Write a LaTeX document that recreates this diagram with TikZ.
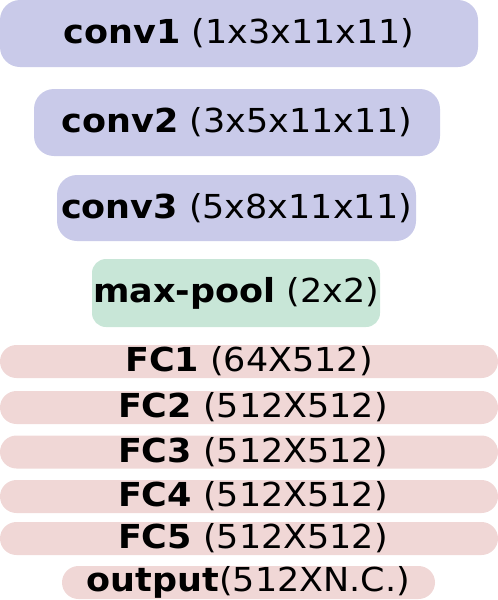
\documentclass[tikz,border=0pt]{standalone}
\usepackage{fontspec}
\setmainfont{DejaVu Sans}
\usepackage{graphicx}

\definecolor{convfill}{HTML}{C9CAE9}
\definecolor{poolfill}{HTML}{C8E6D7}
\definecolor{fcfill}{HTML}{F0D7D6}

% wide lettering, as in the figure
\newcommand{\widetext}[1]{\scalebox{1.06}[1]{#1}}

\begin{document}
\begin{tikzpicture}[x=1pt, y=-1pt,
    layer/.style={inner sep=0pt, draw=none, font=\fontsize{33}{35}\selectfont},
    convbox/.style={layer, fill=convfill, rounded corners=20pt},
    poolbox/.style={layer, fill=poolfill, rounded corners=14pt},
    fcbox/.style={layer, fill=fcfill, rounded corners=16.5pt, minimum height=33pt}]

    % --- canvas ---
    \useasboundingbox (0, 0) rectangle (498, 600);

    % --- convolution layers ---
    \node[convbox, minimum width=478pt, minimum height=67pt] (conv1) at (239, 33.5)
        {\widetext{\textbf{conv1} (1x3x11x11)}\hspace{16pt}};
    \node[convbox, minimum width=406pt, minimum height=67pt] (conv2) at (237, 122.5)
        {\widetext{\textbf{conv2} (3x5x11x11)}\hspace{14pt}};
    \node[convbox, minimum width=359pt, minimum height=66pt] (conv3) at (236.5, 208)
        {\widetext{\textbf{conv3} (5x8x11x11)}};

    % --- pooling ---
    \node[poolbox, minimum width=288pt, minimum height=68pt] (pool) at (236, 293)
        {\widetext{\textbf{max-pool} (2x2)}};

    % --- fully connected layers ---
    \node[fcbox, minimum width=498pt] (fc1) at (249, 361.5)
        {\widetext{\textbf{FC1} (64X512)}\hspace{20pt}};
    \node[fcbox, minimum width=498pt] (fc2) at (249, 407.5)
        {\hspace{8pt}\widetext{\textbf{FC2} (512X512)}};
    \node[fcbox, minimum width=498pt] (fc3) at (249, 452)
        {\hspace{8pt}\widetext{\textbf{FC3} (512X512)}};
    \node[fcbox, minimum width=498pt] (fc4) at (249, 496.5)
        {\hspace{8pt}\widetext{\textbf{FC4} (512X512)}};
    \node[fcbox, minimum width=498pt] (fc5) at (249, 538.5)
        {\hspace{8pt}\widetext{\textbf{FC5} (512X512)}};

    % --- output layer ---
    \node[fcbox, minimum width=373pt] (out) at (248.5, 582.5)
        {\widetext{\textbf{output}(512XN.C.)}\hspace{12pt}};

\end{tikzpicture}
\end{document}
